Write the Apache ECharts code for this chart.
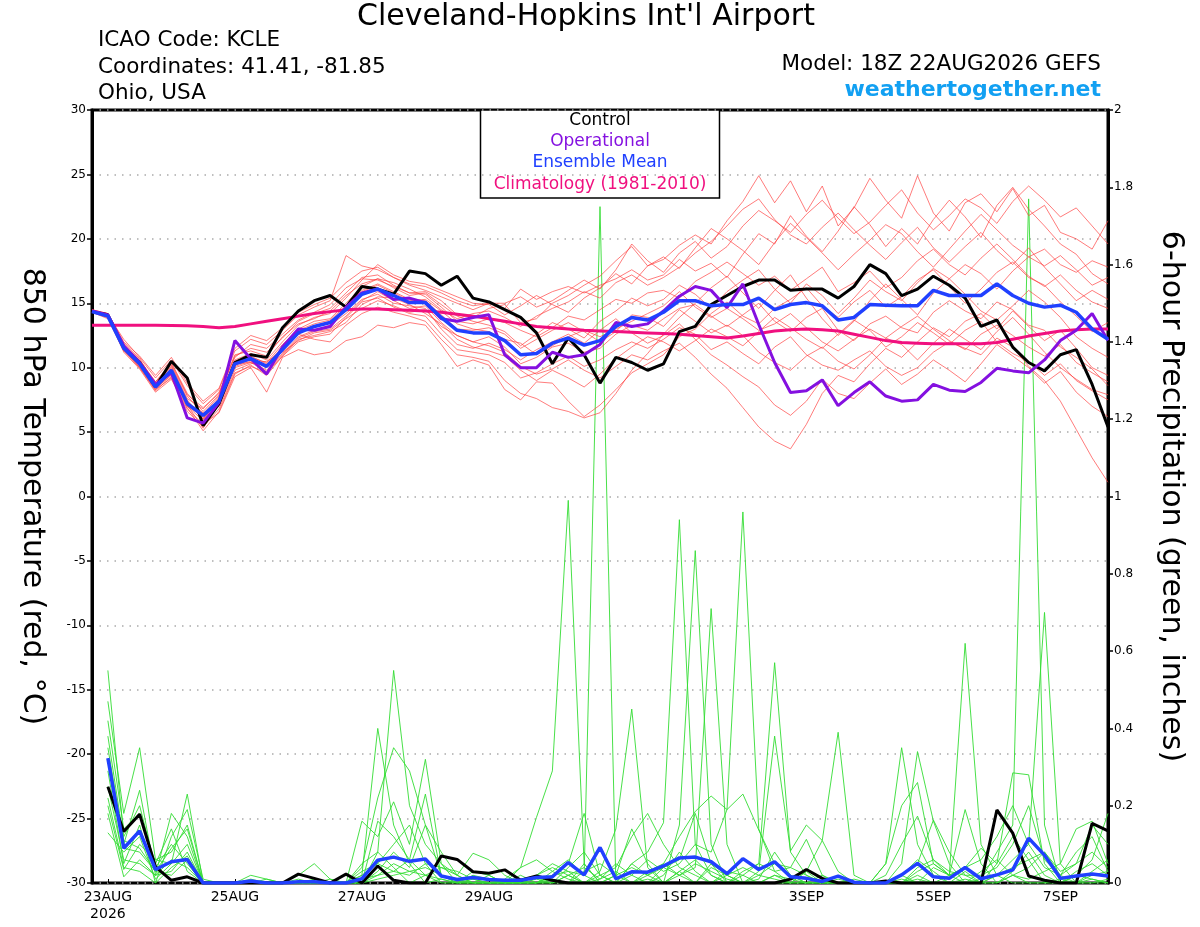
<!DOCTYPE html>
<html>
<head>
<meta charset="utf-8">
<title>KCLE GEFS plume</title>
<script src="https://cdn.jsdelivr.net/npm/echarts@6.0.0/dist/echarts.min.js"></script>
<style>
  html, body { margin: 0; padding: 0; background: #fff; }
  #chart { width: 1200px; height: 927px; }
</style>
</head>
<body>
<div id="chart"></div>
<script>
// time steps: 22AUG 18Z then every 6 hours to 7SEP 18Z
const days = ['23AUG', '24AUG', '25AUG', '26AUG', '27AUG', '28AUG', '29AUG', '30AUG', '31AUG',
  '1SEP', '2SEP', '3SEP', '4SEP', '5SEP', '6SEP', '7SEP'];
const hours = ['00Z', '06Z', '12Z', '18Z'];
const labelDays = ['23AUG', '25AUG', '27AUG', '29AUG', '1SEP', '3SEP', '5SEP', '7SEP'];

const tempTicks = [-30, 30, 5];
const precipTicks = [0, 2, 0.2];

// 850 hPa temperature (C), 65 steps from 22AUG 18Z
const control = [14.35, 14.1, 11.6, 10.4, 8.5, 10.5, 9.2, 5.5, 7.2, 10.4, 11.0, 10.8, 13.1, 14.4, 15.2, 15.6,
  14.7, 16.3, 16.1, 15.7, 17.5, 17.3, 16.4, 17.1, 15.4, 15.1, 14.5, 13.9, 12.7, 10.3, 12.3, 11.0,
  8.8, 10.8, 10.4, 9.8, 10.3, 12.8, 13.2, 14.9, 15.6, 16.3, 16.8, 16.8, 16.0, 16.1, 16.1, 15.4,
  16.3, 18.0, 17.3, 15.6, 16.1, 17.1, 16.4, 15.4, 13.2, 13.7, 11.6, 10.4, 9.75, 11.0, 11.4, 8.7, 5.4];
const operational = [14.4, 14.1, 11.7, 10.4, 8.7, 9.6, 6.1, 5.7, 7.3, 12.1, 10.7, 9.5, 11.6, 13.0, 12.9, 13.2,
  14.7, 15.8, 16.1, 15.3, 15.4, 15.05, 13.8, 13.6, 13.9, 14.1, 11.0, 10.0, 10.0, 11.2, 10.8, 11.0,
  11.8, 13.5, 13.2, 13.4, 14.4, 15.55, 16.3, 16.0, 14.65, 16.5, 13.35, 10.4, 8.07, 8.2, 9.05, 7.05,
  8.07, 8.9, 7.8, 7.4, 7.5, 8.7, 8.25, 8.15, 8.85, 9.95, 9.75, 9.6, 10.6, 12.1, 12.9, 14.2, 12.1];
const ensMean = [14.35, 14.0, 11.5, 10.3, 8.5, 9.8, 7.2, 6.3, 7.4, 10.3, 10.7, 10.1, 11.4, 12.7, 13.2, 13.5,
  14.5, 15.7, 16.1, 15.6, 15.05, 15.05, 13.9, 12.9, 12.7, 12.7, 12.1, 11.0, 11.1, 11.9, 12.3, 11.75,
  12.1, 13.2, 13.9, 13.7, 14.3, 15.2, 15.2, 14.8, 14.9, 14.9, 15.4, 14.5, 14.9, 15.05, 14.8, 13.7,
  13.9, 14.9, 14.85, 14.8, 14.8, 16.0, 15.6, 15.6, 15.6, 16.5, 15.6, 15.0, 14.7, 14.85, 14.3, 13.0, 12.2];
const climatology = [13.3, 13.3, 13.3, 13.3, 13.3, 13.28, 13.25, 13.2, 13.1, 13.2, 13.4, 13.6, 13.8, 14.0, 14.2, 14.35,
  14.5, 14.55, 14.55, 14.5, 14.45, 14.4, 14.3, 14.15, 14.0, 13.8, 13.6, 13.4, 13.2, 13.1, 13.0, 12.9,
  12.85, 12.8, 12.75, 12.7, 12.65, 12.6, 12.5, 12.4, 12.3, 12.45, 12.65, 12.85, 12.95, 13.0, 12.95, 12.85,
  12.6, 12.35, 12.1, 11.95, 11.9, 11.85, 11.85, 11.85, 11.85, 11.95, 12.2, 12.45, 12.65, 12.85, 12.95, 13.0, 13.0];

// ensemble members, temperature
const tempMembers = [
  [14.5, 14.2, 11.8, 10.6, 8.9, 10.4, 8.0, 6.6, 7.9, 10.9, 11.5, 11.2, 12.3, 13.6, 14.2, 14.6, 15.8, 17.0, 17.2, 16.4, 15.8, 15.9, 15.2, 14.1, 13.9, 14.6, 14.9, 13.5, 13.8, 15.0, 15.6, 16.4, 17.1, 18.3, 19.4, 17.9, 18.4, 19.5, 20.3, 19.6, 21.4, 22.9, 24.9, 22.8, 24.5, 22.1, 24.1, 21.0, 22.4, 24.7, 23.0, 21.6, 24.9, 22.0, 20.6, 22.8, 23.5, 22.1, 23.9, 21.8, 22.6, 20.5, 20.0, 19.2, 21.4],
  [14.3, 13.9, 11.3, 10.0, 8.2, 9.3, 6.9, 5.1, 6.6, 9.5, 10.2, 9.4, 10.9, 12.0, 12.4, 12.6, 13.9, 15.1, 15.4, 14.7, 14.2, 14.0, 12.6, 11.4, 11.2, 11.0, 10.4, 9.2, 9.6, 10.3, 10.9, 10.1, 10.6, 11.4, 12.0, 11.5, 12.2, 13.1, 12.6, 11.4, 12.0, 11.1, 10.3, 11.6, 12.4, 11.0, 10.2, 9.8, 10.6, 11.3, 10.1, 9.4, 10.0, 11.2, 12.0, 11.5, 11.0, 12.3, 11.6, 10.1, 9.0, 7.4, 5.2, 3.0, 1.1],
  [14.4, 14.0, 11.6, 10.4, 8.6, 10.0, 7.5, 6.0, 7.1, 10.0, 10.4, 9.7, 11.0, 12.3, 12.8, 13.0, 14.0, 15.2, 15.9, 15.2, 14.6, 14.8, 13.5, 12.5, 12.0, 11.7, 11.2, 10.1, 9.5, 9.9, 10.6, 9.8, 9.2, 10.1, 11.0, 10.6, 11.3, 11.9, 10.8, 9.5, 8.4, 6.9, 5.4, 4.3, 3.7, 5.6, 8.0, 9.4, 8.9, 10.3, 11.5, 10.8, 12.0, 13.1, 12.4, 13.6, 14.2, 13.0, 14.4, 13.2, 12.1, 12.9, 11.5, 10.0, 9.4],
  [14.5, 14.1, 12.2, 10.8, 9.2, 10.6, 8.6, 7.2, 8.3, 11.3, 12.2, 11.8, 12.9, 14.1, 14.7, 15.2, 18.7, 17.9, 17.6, 17.0, 16.5, 16.3, 15.8, 15.2, 14.8, 15.0, 14.6, 16.1, 15.3, 15.9, 16.3, 15.8, 16.4, 16.9, 17.6, 16.8, 17.2, 18.4, 17.5, 18.1, 17.0, 18.8, 20.4, 19.6, 21.8, 20.2, 19.0, 20.6, 22.5, 21.1, 19.4, 20.8, 19.6, 21.5, 23.0, 21.7, 20.1, 22.6, 24.0, 22.3, 21.0, 19.6, 18.8, 17.3, 16.5],
  [14.3, 14.0, 11.4, 10.2, 8.4, 9.6, 7.0, 5.9, 7.6, 10.5, 10.9, 10.3, 11.6, 12.9, 13.4, 13.7, 14.8, 16.0, 16.5, 15.9, 15.3, 15.2, 14.1, 13.0, 12.9, 13.1, 12.6, 11.5, 12.2, 12.9, 13.5, 12.8, 12.0, 12.8, 14.1, 13.9, 13.2, 14.5, 13.6, 12.7, 13.3, 12.5, 11.2, 10.4, 9.8, 10.9, 11.6, 10.5, 9.9, 11.0, 12.3, 11.8, 10.6, 11.9, 13.0, 12.2, 11.4, 12.8, 13.9, 12.6, 11.2, 10.0, 9.1, 8.3, 7.9],
  [14.4, 14.0, 11.2, 9.9, 8.1, 9.1, 6.8, 5.6, 6.5, 9.3, 10.0, 8.1, 10.8, 11.4, 11.0, 11.2, 12.1, 12.4, 13.3, 13.1, 13.5, 13.3, 11.8, 10.1, 10.6, 10.2, 8.3, 7.5, 8.9, 8.8, 7.4, 6.2, 7.1, 8.3, 9.6, 10.3, 11.0, 12.4, 13.0, 14.2, 15.1, 14.0, 13.4, 14.6, 15.3, 16.2, 14.8, 13.9, 15.1, 16.0, 14.7, 15.5, 16.8, 17.6, 16.3, 15.0, 16.1, 17.4, 18.2, 17.0, 16.4, 15.1, 14.0, 12.8, 13.5],
  [14.4, 14.1, 11.7, 10.5, 8.8, 10.2, 7.8, 6.4, 7.8, 10.6, 11.1, 10.6, 12.0, 13.3, 13.9, 14.2, 15.4, 16.8, 18.0, 17.2, 16.7, 16.5, 16.0, 15.5, 15.0, 14.9, 14.1, 14.8, 15.6, 14.9, 14.3, 15.4, 16.2, 17.3, 16.5, 17.9, 18.6, 17.7, 19.3, 20.8, 20.0, 19.1, 18.0, 19.7, 21.2, 20.1, 18.9, 17.6, 18.8, 19.9, 21.1, 20.4, 19.0, 17.8, 19.2, 20.6, 21.9, 20.7, 19.5, 18.6, 17.9, 18.7, 17.6, 16.4, 17.0],
  [14.3, 13.9, 11.5, 10.1, 8.3, 9.5, 7.3, 6.5, 7.0, 9.8, 10.3, 10.5, 11.2, 12.1, 12.7, 12.9, 13.8, 14.6, 15.2, 14.8, 14.3, 14.5, 13.2, 12.5, 12.0, 12.4, 11.6, 10.3, 10.8, 11.6, 11.9, 11.2, 11.5, 12.6, 13.3, 12.9, 13.8, 14.6, 14.9, 14.0, 13.2, 14.1, 15.0, 13.6, 12.8, 13.9, 14.6, 12.9, 12.1, 13.4, 14.0, 13.1, 12.7, 14.3, 15.2, 14.4, 13.8, 15.1, 14.5, 13.3, 12.9, 11.6, 10.8, 9.9, 8.6],
  [14.4, 14.0, 11.9, 10.7, 8.7, 10.1, 7.6, 6.8, 8.1, 10.8, 11.8, 11.5, 12.6, 13.7, 14.3, 14.9, 16.2, 16.9, 16.8, 16.3, 15.8, 15.7, 14.7, 13.6, 13.4, 13.8, 13.5, 12.9, 12.4, 13.1, 14.0, 13.7, 14.5, 15.3, 15.0, 15.8, 16.0, 15.4, 16.7, 17.4, 18.2, 17.3, 16.4, 17.1, 16.0, 16.9, 17.8, 15.9, 16.6, 17.5, 16.2, 17.0, 18.3, 19.2, 18.0, 17.2, 18.5, 19.6, 18.4, 17.1, 16.3, 17.2, 16.0, 15.1, 14.6],
  [14.3, 13.8, 11.3, 10.1, 8.4, 9.4, 7.1, 5.3, 7.2, 10.1, 10.5, 9.8, 11.1, 12.4, 12.9, 13.3, 14.2, 15.3, 15.7, 15.0, 14.8, 14.6, 13.0, 11.8, 11.5, 11.9, 11.4, 10.6, 11.4, 12.0, 12.6, 11.9, 12.9, 13.8, 12.7, 11.9, 12.5, 13.4, 12.2, 11.0, 10.2, 9.3, 8.5, 7.1, 6.3, 7.4, 9.1, 8.0, 7.6, 8.8, 9.9, 8.7, 9.5, 10.6, 9.8, 8.9, 10.3, 11.8, 10.9, 10.0, 8.8, 9.7, 8.1, 7.0, 6.2],
  [14.5, 14.2, 12.0, 10.9, 9.4, 10.8, 8.8, 7.4, 8.4, 11.5, 12.5, 12.1, 13.1, 14.3, 14.9, 15.4, 16.6, 17.5, 17.8, 17.0, 16.4, 16.0, 15.5, 15.0, 14.5, 15.0, 15.0, 15.5, 14.7, 15.2, 16.0, 16.8, 16.1, 17.6, 19.6, 18.3, 17.4, 18.9, 19.8, 18.5, 19.4, 21.0, 22.2, 21.4, 20.5, 21.9, 23.0, 21.6, 20.4, 21.3, 22.6, 23.8, 22.0, 20.7, 21.8, 23.1, 22.4, 21.2, 22.9, 24.1, 23.0, 21.7, 22.4, 21.0, 19.6],
  [14.4, 14.0, 11.6, 10.2, 8.6, 9.7, 7.4, 6.1, 7.3, 10.2, 10.6, 10.0, 11.3, 12.6, 12.2, 12.0, 13.3, 14.2, 14.7, 14.3, 14.0, 13.6, 12.2, 11.0, 10.8, 10.5, 9.0, 8.0, 7.6, 6.9, 6.6, 6.1, 6.5, 8.0, 9.8, 11.1, 12.6, 13.9, 15.0, 16.2, 17.1, 15.8, 14.6, 16.0, 17.2, 15.4, 13.8, 12.5, 13.6, 15.2, 16.5, 15.3, 14.1, 15.8, 16.9, 15.7, 14.4, 13.7, 14.8, 16.0, 15.1, 13.9, 12.4, 11.5, 10.8],
  [14.4, 14.1, 11.5, 10.4, 8.6, 9.9, 7.0, 6.2, 7.5, 10.4, 10.8, 10.4, 11.8, 13.0, 13.6, 13.8, 15.0, 16.3, 16.9, 16.2, 15.6, 15.8, 14.9, 14.0, 13.6, 13.3, 12.8, 11.7, 12.6, 13.5, 13.0, 12.3, 13.6, 14.4, 15.4, 14.8, 15.3, 16.4, 15.7, 14.6, 15.9, 16.8, 17.6, 16.1, 15.0, 16.5, 15.6, 14.2, 15.4, 16.8, 15.9, 15.2, 16.6, 17.7, 16.9, 18.0, 17.3, 16.1, 17.5, 18.6, 19.2, 18.0, 17.4, 18.3, 17.8],
  [14.3, 14.0, 11.4, 10.0, 8.3, 9.2, 6.6, 5.4, 6.8, 9.6, 10.1, 9.6, 10.9, 12.2, 12.5, 12.8, 13.5, 14.9, 15.5, 15.4, 14.9, 14.2, 13.4, 12.2, 11.6, 11.3, 10.9, 9.8, 9.0, 9.8, 9.2, 8.5, 9.5, 10.7, 11.6, 12.4, 12.0, 11.3, 12.1, 13.0, 12.4, 11.7, 12.8, 13.9, 13.1, 12.2, 11.5, 12.6, 13.7, 12.9, 11.6, 12.4, 13.5, 12.7, 11.8, 12.9, 13.6, 12.0, 11.1, 10.5, 9.4, 10.3, 9.0, 8.2, 7.5],
  [14.4, 14.1, 11.8, 10.5, 8.9, 10.3, 7.9, 6.9, 8.0, 11.0, 11.3, 10.9, 12.4, 13.4, 13.8, 14.4, 15.6, 16.5, 16.9, 16.6, 16.1, 15.5, 14.5, 13.8, 14.2, 14.4, 13.9, 13.2, 14.0, 14.6, 15.1, 15.9, 15.4, 16.6, 17.2, 16.4, 17.0, 17.8, 18.9, 19.8, 21.0, 22.3, 23.1, 21.5, 20.3, 19.6, 20.9, 22.0, 20.7, 19.5, 18.4, 19.7, 20.9, 19.3, 18.2, 19.4, 20.5, 19.1, 18.0, 19.3, 17.8, 16.5, 15.2, 16.0, 15.3],
  [14.4, 14.0, 11.5, 10.3, 8.5, 9.9, 7.3, 6.0, 7.7, 10.3, 10.4, 10.2, 11.5, 12.8, 13.1, 13.6, 14.6, 15.9, 16.4, 15.8, 15.2, 15.3, 14.4, 13.4, 13.0, 12.8, 12.2, 11.9, 11.0, 11.7, 12.4, 12.9, 12.4, 13.0, 13.6, 14.2, 14.8, 15.9, 14.7, 13.9, 14.6, 13.8, 12.9, 13.4, 14.2, 13.1, 12.0, 11.3, 12.2, 13.0, 12.3, 13.2, 14.0, 13.0, 12.1, 11.4, 12.6, 13.3, 12.5, 11.6, 10.9, 11.8, 10.4, 9.6, 8.9]
];

// 6-hour precipitation (inches), 64 steps from 23AUG 00Z
const precipControl = [0.249, 0.133, 0.178, 0.042, 0.007, 0.016, 0, 0, 0, 0, 0, 0, 0.023, 0.012, 0, 0.023,
  0, 0.044, 0.007, 0, 0, 0.07, 0.061, 0.029, 0.025, 0.034, 0.007, 0.018, 0.007, 0, 0, 0,
  0, 0, 0, 0, 0, 0, 0, 0, 0, 0, 0, 0.01, 0.035, 0.012, 0, 0,
  0, 0.005, 0, 0, 0, 0, 0, 0, 0.189, 0.129, 0.018, 0.007, 0, 0, 0.154, 0.135];
const precipMean = [0.323, 0.09, 0.135, 0.035, 0.055, 0.061, 0, 0, 0, 0.005, 0, 0, 0.003, 0.003, 0, 0,
  0.011, 0.059, 0.067, 0.056, 0.062, 0.018, 0.009, 0.014, 0.009, 0.007, 0.007, 0.014, 0.016, 0.053, 0.021, 0.092,
  0.011, 0.029, 0.028, 0.044, 0.065, 0.067, 0.055, 0.024, 0.063, 0.035, 0.055, 0.016, 0.012, 0.004, 0.018, 0.002,
  0, 0, 0.021, 0.051, 0.016, 0.012, 0.04, 0.011, 0.021, 0.034, 0.116, 0.072, 0.012, 0.018, 0.023, 0.018];
const precipMembers = [
  [0.55, 0.12, 0.2, 0.04, 0.1, 0.05, 0, 0, 0, 0, 0.01, 0, 0, 0, 0, 0, 0.02, 0.4, 0.15, 0.05, 0, 0.01, 0, 0, 0, 0, 0, 0, 0.02, 0.03, 0.02, 1.75, 0, 0, 0.01, 0, 0.03, 0, 0.05, 0.02, 0, 0.01, 0.08, 0.02, 0, 0, 0, 0, 0, 0, 0.02, 0, 0, 0, 0.01, 0, 0.05, 0.12, 0.06, 0, 0.01, 0, 0.02, 0.03],
  [0.47, 0.18, 0.35, 0.06, 0.05, 0.23, 0, 0, 0, 0.01, 0, 0, 0, 0, 0.01, 0, 0, 0.08, 0.55, 0.2, 0.1, 0.05, 0.02, 0, 0, 0.01, 0.04, 0.17, 0.29, 0.99, 0.05, 0, 0.02, 0, 0, 0.04, 0.06, 0.18, 0.05, 0, 0, 0, 0.02, 0.01, 0, 0, 0, 0, 0, 0.05, 0.35, 0.1, 0.02, 0, 0, 0, 0, 0.02, 0, 0, 0, 0, 0.01, 0],
  [0.35, 0.1, 0.24, 0.02, 0.18, 0.12, 0, 0, 0, 0, 0, 0, 0.01, 0, 0, 0, 0.04, 0.22, 0.35, 0.29, 0.15, 0.08, 0.02, 0, 0, 0, 0, 0.01, 0, 0.04, 0.08, 0.02, 0, 0.05, 0.08, 0.156, 0.94, 0.1, 0.02, 0, 0, 0, 0, 0, 0.03, 0, 0, 0, 0, 0, 0, 0.04, 0.06, 0.02, 0.62, 0.1, 0.02, 0, 0, 0, 0, 0.03, 0.05, 0.02],
  [0.29, 0.05, 0.15, 0, 0.12, 0.19, 0.01, 0, 0, 0, 0, 0, 0, 0, 0, 0, 0.16, 0.12, 0.21, 0.1, 0.32, 0.05, 0, 0.01, 0, 0, 0, 0, 0.01, 0, 0.05, 0, 0.02, 0.14, 0.05, 0, 0.15, 0.86, 0.1, 0, 0.02, 0, 0, 0, 0, 0.02, 0, 0, 0, 0, 0.02, 0.06, 0.03, 0, 0, 0.01, 0.08, 0.15, 1.77, 0.15, 0, 0, 0, 0.01],
  [0.2, 0.035, 0.1, 0.06, 0.08, 0.15, 0, 0, 0, 0, 0, 0, 0.02, 0.05, 0.01, 0, 0, 0.16, 0.12, 0.06, 0.23, 0.02, 0, 0, 0.02, 0, 0, 0, 0, 0.02, 0, 0.03, 0.14, 0.45, 0.04, 0, 0.02, 0.04, 0.71, 0.1, 0, 0, 0.02, 0, 0, 0, 0, 0, 0, 0, 0, 0.02, 0, 0, 0.03, 0, 0.02, 0.06, 0.1, 0.7, 0.05, 0, 0, 0],
  [0.18, 0.016, 0.06, 0.02, 0.03, 0.08, 0, 0, 0, 0, 0, 0, 0, 0, 0, 0, 0.02, 0.05, 0.1, 0.15, 0.05, 0, 0, 0.02, 0.01, 0, 0, 0.02, 0.05, 0.03, 0, 0, 0, 0.02, 0.06, 0.03, 0.05, 0.1, 0.08, 0.19, 0.96, 0.14, 0.03, 0, 0, 0, 0, 0.01, 0, 0, 0.05, 0.34, 0.16, 0.05, 0, 0, 0, 0.02, 0.04, 0.08, 0.02, 0, 0.03, 0.06],
  [0.13, 0.08, 0.12, 0.01, 0.05, 0.1, 0, 0, 0, 0, 0, 0, 0, 0.01, 0, 0, 0, 0.03, 0.08, 0.04, 0.15, 0.02, 0, 0, 0, 0, 0.02, 0, 0.03, 0.06, 0.02, 0, 0, 0.05, 0.02, 0, 0.03, 0.06, 0.02, 0, 0.03, 0.05, 0.57, 0.08, 0.02, 0, 0, 0, 0, 0, 0, 0.03, 0.05, 0.02, 0.04, 0.09, 0.05, 0.285, 0.28, 0.05, 0, 0.02, 0.01, 0],
  [0.42, 0.14, 0.18, 0.05, 0.14, 0.03, 0, 0, 0, 0.02, 0.01, 0, 0, 0, 0, 0, 0.05, 0.08, 0.04, 0, 0.02, 0.01, 0, 0, 0, 0, 0, 0, 0, 0.02, 0.04, 0.01, 0.05, 0.02, 0, 0.02, 0.08, 0.03, 0, 0.02, 0.04, 0.02, 0.01, 0, 0.03, 0.11, 0.39, 0.02, 0, 0, 0.01, 0, 0.04, 0.02, 0, 0.03, 0.06, 0.02, 0.01, 0.03, 0.05, 0.14, 0.16, 0.05],
  [0.32, 0.09, 0.08, 0.03, 0.02, 0.06, 0, 0, 0, 0, 0, 0, 0, 0, 0, 0, 0, 0.02, 0.03, 0.06, 0.02, 0.04, 0.02, 0.077, 0.06, 0.02, 0, 0, 0.02, 0.05, 0.18, 0.02, 0, 0, 0.03, 0.05, 0.02, 0, 0.04, 0.02, 0, 0.02, 0.05, 0.02, 0, 0, 0.02, 0, 0, 0.05, 0.2, 0.26, 0.05, 0.02, 0.19, 0.05, 0, 0.03, 0.08, 0.02, 0, 0.02, 0.06, 0.18],
  [0.25, 0.06, 0.05, 0.02, 0.06, 0.04, 0, 0, 0, 0, 0, 0, 0, 0, 0, 0, 0.01, 0.02, 0.05, 0.03, 0.04, 0.02, 0.01, 0, 0, 0, 0, 0, 0, 0, 0.03, 0.05, 0.02, 0.04, 0.02, 0.05, 0.12, 0.185, 0.225, 0.19, 0.23, 0.137, 0.05, 0.04, 0.113, 0.02, 0, 0, 0, 0, 0, 0.01, 0, 0.02, 0.04, 0.06, 0.12, 0.2, 0.1, 0.04, 0.02, 0.05, 0.08, 0.04],
  [0.38, 0.11, 0.09, 0.03, 0.09, 0.14, 0, 0, 0, 0, 0, 0, 0, 0, 0, 0, 0.03, 0.05, 0.03, 0.02, 0.05, 0.04, 0.03, 0.01, 0, 0, 0, 0.02, 0.04, 0.02, 0, 0.01, 0.03, 0, 0.02, 0.04, 0.02, 0.05, 0.03, 0.01, 0, 0.03, 0.38, 0.083, 0.15, 0.11, 0.03, 0, 0, 0, 0.02, 0.05, 0.163, 0.08, 0.02, 0, 0.02, 0.04, 0.06, 0.08, 0.03, 0.05, 0.15, 0.1],
  [0.22, 0.04, 0.03, 0, 0.04, 0.07, 0, 0, 0, 0, 0, 0, 0, 0, 0, 0, 0, 0.01, 0.02, 0.03, 0.02, 0, 0, 0.03, 0.02, 0, 0.04, 0.06, 0.03, 0.01, 0, 0.02, 0.04, 0.12, 0.18, 0.1, 0.04, 0.02, 0, 0.03, 0.02, 0.05, 0.03, 0.04, 0.02, 0, 0.01, 0, 0, 0.02, 0.1, 0.173, 0.06, 0.03, 0.02, 0.02, 0.04, 0.1, 0.2, 0.06, 0.02, 0.08, 0.12, 0.03]
];

const FONT = 'DejaVu Sans';
const COL_RED = 'rgba(255, 60, 60, 0.75)';
const COL_GREEN = '#33dd33';
const COL_OPER = '#8410e0';
const COL_MEAN = '#2040ff';
const COL_CLIM = '#f0107f';

const times = ['22AUG 18Z'];
days.forEach(d => hours.forEach(h => times.push(d + ' ' + h)));

function isLabelTime(value) {
  const parts = value.split(' ');
  return parts[1] === '00Z' && labelDays.indexOf(parts[0]) >= 0;
}

function tempSeries(values, color, width, z) {
  return {
    type: 'line', yAxisIndex: 0, data: values, symbol: 'none', silent: true, z: z,
    lineStyle: { color: color, width: width }
  };
}
function precipSeries(values, color, width, z) {
  return {
    type: 'line', yAxisIndex: 1, data: values.map((v, k) => [times[k + 1], v]),
    symbol: 'none', silent: true, z: z,
    lineStyle: { color: color, width: width }
  };
}

const series = [];
precipMembers.forEach(m => series.push(precipSeries(m, COL_GREEN, 0.9, 1)));
tempMembers.forEach(m => series.push(tempSeries(m, COL_RED, 0.9, 2)));
series.push(tempSeries(climatology, COL_CLIM, 3, 3));
series.push(precipSeries(precipControl, '#000', 3, 4));
series.push(precipSeries(precipMean, COL_MEAN, 3.5, 5));
series.push(tempSeries(control, '#000', 3, 6));
series.push(tempSeries(operational, COL_OPER, 3, 7));
series.push(tempSeries(ensMean, COL_MEAN, 3.5, 8));

const chart = echarts.init(document.getElementById('chart'));
chart.setOption({
  animation: false,
  backgroundColor: '#fff',
  textStyle: { fontFamily: FONT },
  grid: {
    left: 92, right: 92, top: 110, bottom: 44,
    show: true, borderColor: '#000', borderWidth: 3, backgroundColor: 'transparent'
  },
  xAxis: {
    type: 'category',
    data: times,
    boundaryGap: false,
    axisLine: { show: false, onZero: false },
    axisTick: {
      show: true, inside: true, length: 4,
      interval: (i, v) => isLabelTime(v),
      lineStyle: { color: '#000', width: 1 }
    },
    axisLabel: {
      interval: (i, v) => isLabelTime(v),
      formatter: v => {
        const d = v.split(' ')[0];
        return d === '23AUG' ? d + '\n2026' : d;
      },
      color: '#000', fontSize: 14, margin: 6, lineHeight: 17, fontFamily: FONT
    },
    splitLine: { show: false }
  },
  yAxis: [
    {
      type: 'value', position: 'left',
      min: tempTicks[0], max: tempTicks[1], interval: tempTicks[2],
      name: '850 hPa Temperature (red, \u00B0C)',
      nameLocation: 'middle', nameRotate: -90, nameGap: 45,
      nameTextStyle: { color: '#000', fontSize: 30, fontFamily: FONT },
      axisLine: { show: true, lineStyle: { color: '#000', width: 3 } },
      axisTick: { show: true, length: 5, lineStyle: { color: '#000', width: 1.5 } },
      axisLabel: { color: '#000', fontSize: 12, margin: 6, fontFamily: FONT },
      splitLine: { show: true, lineStyle: { color: '#aaa', width: 1.5, type: [1.5, 6] } }
    },
    {
      type: 'value', position: 'right',
      min: precipTicks[0], max: precipTicks[1], interval: precipTicks[2],
      name: '6-hour Precipitation (green, inches)',
      nameLocation: 'middle', nameRotate: -90, nameGap: 48,
      nameTextStyle: { color: '#000', fontSize: 30, fontFamily: FONT },
      axisLine: { show: true, lineStyle: { color: '#000', width: 3 } },
      axisTick: { show: true, length: 5, lineStyle: { color: '#000', width: 1.5 } },
      axisLabel: { color: '#000', fontSize: 12, margin: 6, fontFamily: FONT },
      splitLine: { show: false }
    }
  ],
  graphic: [
    { type: 'text', x: 586, y: 17, style: { text: "Cleveland-Hopkins Int'l Airport", font: '30px "DejaVu Sans"', fill: '#000', align: 'center', verticalAlign: 'middle' } },
    { type: 'text', x: 98, y: 40, style: { text: 'ICAO Code: KCLE', font: '21.5px "DejaVu Sans"', fill: '#000', verticalAlign: 'middle' } },
    { type: 'text', x: 98, y: 67, style: { text: 'Coordinates: 41.41, -81.85', font: '21.5px "DejaVu Sans"', fill: '#000', verticalAlign: 'middle' } },
    { type: 'text', x: 98, y: 93, style: { text: 'Ohio, USA', font: '21.5px "DejaVu Sans"', fill: '#000', verticalAlign: 'middle' } },
    { type: 'text', x: 1101, y: 64, style: { text: 'Model: 18Z 22AUG2026 GEFS', font: '21.5px "DejaVu Sans"', fill: '#000', align: 'right', verticalAlign: 'middle' } },
    { type: 'text', x: 1101, y: 90, style: { text: 'weathertogether.net', font: 'bold 22px "DejaVu Sans"', fill: '#12a0f2', align: 'right', verticalAlign: 'middle' } },
    {
      type: 'group', z: 100,
      children: [
        { type: 'rect', shape: { x: 480.5, y: 110, width: 239, height: 88 }, style: { fill: '#fff', stroke: '#000', lineWidth: 1.5 } },
        { type: 'text', x: 600, y: 121, style: { text: 'Control', font: '17px "DejaVu Sans"', fill: '#000', align: 'center', verticalAlign: 'middle' } },
        { type: 'text', x: 600, y: 142, style: { text: 'Operational', font: '17px "DejaVu Sans"', fill: COL_OPER, align: 'center', verticalAlign: 'middle' } },
        { type: 'text', x: 600, y: 163, style: { text: 'Ensemble Mean', font: '17px "DejaVu Sans"', fill: COL_MEAN, align: 'center', verticalAlign: 'middle' } },
        { type: 'text', x: 600, y: 185, style: { text: 'Climatology (1981-2010)', font: '17px "DejaVu Sans"', fill: COL_CLIM, align: 'center', verticalAlign: 'middle' } }
      ]
    }
  ],
  series: series
});

window.addEventListener('resize', function () {
  chart.resize();
});
</script>
</body>
</html>
